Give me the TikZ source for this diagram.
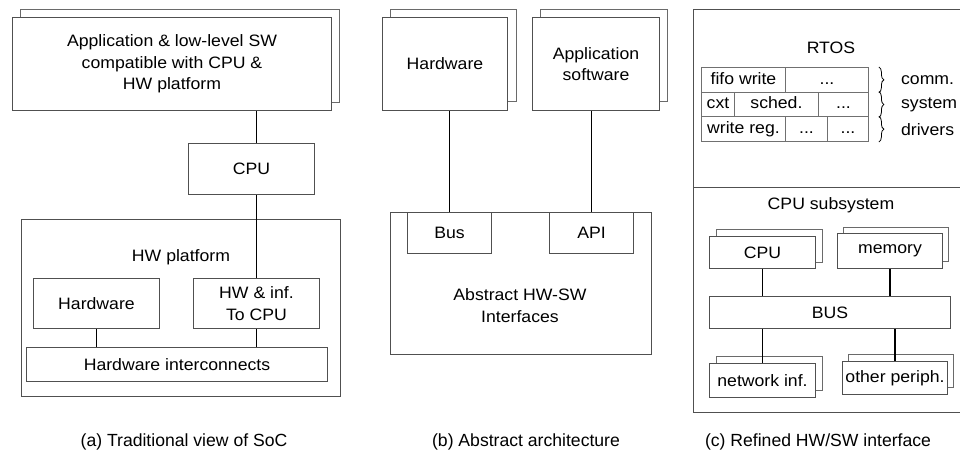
\documentclass[tikz,border=0pt]{standalone}
\usepackage{fontspec}
\setmainfont{Liberation Sans}[FakeStretch=1.07]
\newfontfamily\capfont{Liberation Sans}
\usetikzlibrary{decorations.pathreplacing}
\definecolor{boxgray}{HTML}{505050}
\definecolor{backgray}{HTML}{6A6A6A}
\definecolor{cellgray}{HTML}{707070}

\begin{document}
\begin{tikzpicture}[x=1pt,y=-1pt,
  every node/.style={font=\fontsize{16.5}{21.5}\selectfont, inner sep=0pt, text=black},
  box/.style={draw=boxgray, line width=1pt, fill=white, align=center, anchor=north west},
  backbox/.style={draw=backgray, line width=1pt, fill=white, anchor=north west},
  frame/.style={draw=boxgray, line width=1pt, anchor=north west},
  cell/.style={draw=cellgray, line width=0.9pt, anchor=north west, minimum height=24.7pt,
    text height=12pt, text depth=3.5pt},
  wire/.style={draw=black, line width=1.2pt},
  bracket/.style={draw=black, line width=0.8pt, decorate, decoration={brace, amplitude=5pt}},
  captext/.style={font=\capfont\fontsize{17.6}{22}\selectfont}
]
\path[use as bounding box] (0,0) rectangle (960,466);
\clip (0,0) rectangle (960,466);

% ---------- (a) traditional view ----------
\node[backbox, minimum width=319pt, minimum height=93pt] (appB) at (20,9) {};
\node[box, minimum width=319pt, minimum height=93pt] (app) at (12,17)
  {Application \& low-level SW\\compatible with CPU \&\\HW platform};
\node[box, minimum width=126pt, minimum height=51pt] (cpuA) at (188,143) {CPU};
\node[frame, minimum width=319pt, minimum height=177pt] (hwp) at (21,219) {};
\node (hwpL) at (181,257) {HW platform};
\node[box, minimum width=126pt, minimum height=50pt] (hwA) at (33,278) {Hardware};
\node[box, minimum width=126pt, minimum height=50pt] (hwinf) at (193,278) {HW \& inf.\\To CPU};
\node[box, minimum width=301pt, minimum height=34pt] (ic) at (26,347) {Hardware interconnects};

\draw[wire] (hwinf.north |- app.south) -- (hwinf.north |- cpuA.north);
\draw[wire] (hwinf.north |- cpuA.south) -- (hwinf.north);
\draw[wire] (hwA.south) -- (hwA.south |- ic.north);
\draw[wire] (hwinf.south) -- (hwinf.south |- ic.north);

% ---------- (b) abstract architecture ----------
\node[backbox, minimum width=126pt, minimum height=92pt] (hwbB) at (390,9) {};
\node[box, minimum width=125pt, minimum height=93pt] (hwb) at (382,17) {Hardware};
\node[backbox, minimum width=127pt, minimum height=92pt] (swB) at (540,9) {};
\node[box, minimum width=127pt, minimum height=93pt] (sw) at (532,17) {Application\\software};
\node[frame, minimum width=261pt, minimum height=142pt] (ahs) at (390,212) {};
\node[box, minimum width=84pt, minimum height=41pt] (bus) at (407,212) {Bus};
\node[box, minimum width=84pt, minimum height=41pt] (api) at (549,212) {API};
\node[align=center] (ahsL) at (520,305.5) {Abstract HW-SW\\Interfaces};

\draw[wire] (bus.north |- hwb.south) -- (bus.north);
\draw[wire] (api.north |- sw.south) -- (api.north);

% ---------- (c) refined HW/SW interface ----------
\node[frame, minimum width=276pt, minimum height=403pt] (rt) at (693,9) {};
\coordinate (divY) at (0,187);
\draw[draw=boxgray, line width=1pt] (rt.west |- divY) -- (rt.east |- divY);
\node (rtosL) at (831,48) {RTOS};

\node[cell, minimum width=84pt] (c11) at (701,67) {fifo write};
\node[cell, minimum width=83pt] (c12) at (785,67) {...};
\node[cell, minimum width=33pt] (c21) at (701,91.7) {cxt};
\node[cell, minimum width=84pt] (c22) at (734,91.7) {sched.};
\node[cell, minimum width=50pt] (c23) at (818,91.7) {...};
\node[cell, minimum width=84pt] (c31) at (701,116.4) {write reg.};
\node[cell, minimum width=42pt] (c32) at (785,116.4) {...};
\node[cell, minimum width=41pt] (c33) at (827,116.4) {...};

\draw[bracket] ([xshift=10pt]c12.north east) -- ([xshift=10pt]c12.south east);
\draw[bracket] ([xshift=10pt]c23.north east) -- ([xshift=10pt]c23.south east);
\draw[bracket] ([xshift=10pt]c33.north east) -- ([xshift=10pt]c33.south east);
\node[anchor=west] (commL) at ([xshift=32pt]c12.east) {comm.};
\node[anchor=west] (sysL) at ([xshift=32pt]c23.east) {system};
\node[anchor=west] (drvL) at ([xshift=32pt]c33.east) {drivers};

\node (cssL) at (831,205) {CPU subsystem};
\node[backbox, minimum width=106pt, minimum height=33pt] (cpuCB) at (716,229) {};
\node[box, minimum width=106pt, minimum height=32pt] (cpuC) at (709,236) {CPU};
\node[backbox, minimum width=105pt, minimum height=34pt] (memB) at (843,227) {};
\node[box, minimum width=105pt, minimum height=35pt] (mem) at (837,233) {memory};
\node[box, minimum width=241pt, minimum height=32pt] (busC) at (709,296) {BUS};
\node[backbox, minimum width=106pt, minimum height=34pt] (netB) at (716,356) {};
\node[box, minimum width=106pt, minimum height=34pt] (net) at (709,363) {network inf.};
\node[backbox, minimum width=105pt, minimum height=33pt] (othB) at (848,354) {};
\node[box, minimum width=105pt, minimum height=33pt] (oth) at (842,361) {other periph.};

\draw[wire] (cpuC.south) -- (cpuC.south |- busC.north);
\draw[wire] (mem.south) -- (mem.south |- busC.north);
\draw[wire] (net.north |- busC.south) -- (net.north);
\draw[wire] (oth.north |- busC.south) -- (oth.north);

% ---------- captions ----------
\node[captext] (capA) at (184,442) {(a) Traditional view of SoC};
\node[captext] (capB) at (526,442) {(b) Abstract architecture};
\node[captext] (capC) at (818,442) {(c) Refined HW/SW interface};
\end{tikzpicture}
\end{document}
